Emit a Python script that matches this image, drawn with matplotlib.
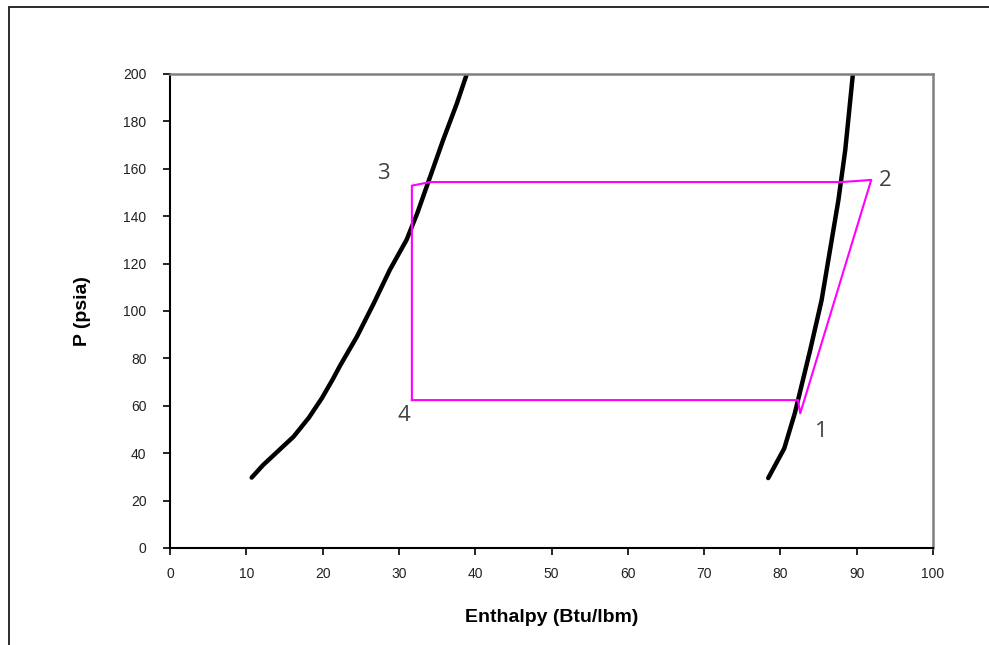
import matplotlib
matplotlib.use('Agg')
import matplotlib.pyplot as plt
from matplotlib.patches import Rectangle

# saturated liquid line (h in Btu/lbm, P in psia)
liq_h = [10.7, 12.2, 14.2, 16.2, 18.2, 19.9, 21.3, 22.3, 24.5, 26.7, 28.8, 31.0, 32.4, 34.1, 35.8, 37.6, 38.9]
liq_p = [29.7, 35.0, 41.0, 47.0, 55.0, 63.2, 71.0, 77.0, 89.2, 103.2, 117.3, 130.0, 141.2, 156.7, 172.2, 187.6, 200.0]

# saturated vapor line
vap_h = [78.4, 80.5, 81.9, 83.9, 85.4, 86.5, 87.6, 88.2, 88.5, 89.0, 89.5]
vap_p = [29.5, 42.0, 57.0, 83.5, 104.6, 125.7, 146.8, 160.9, 168.0, 184.0, 200.0]

# refrigeration cycle 4 -> 1 -> 2 -> 3 -> 4
cyc_h = [31.7, 82.3, 82.6, 91.9, 88.0, 34.1, 31.7, 31.7]
cyc_p = [62.4, 62.4, 56.8, 155.3, 154.4, 154.4, 152.9, 62.4]

state_labels = ['1', '2', '3', '4']
state_h = [85.3, 93.8, 27.9, 30.6]
state_p = [49.0, 155.0, 158.0, 56.0]

fig = plt.figure(figsize=(9.89, 6.45), dpi=100)
fig.patches.append(Rectangle((0.0086, -0.1), 1.2, 1.0884, transform=fig.transFigure,
                             fill=False, edgecolor='#1a1a1a', linewidth=1.3))

ax = fig.add_axes([0.1719, 0.1504, 0.7715, 0.7349])
ax.plot(liq_h, liq_p, color='black', linewidth=3.2,
        solid_capstyle='round', solid_joinstyle='round')
ax.plot(vap_h, vap_p, color='black', linewidth=3.2,
        solid_capstyle='round', solid_joinstyle='round')
ax.plot(cyc_h, cyc_p, color='#ff00ff', linewidth=1.5)

for lab, h, p in zip(state_labels, state_h, state_p):
    ax.text(h, p, lab, fontsize=16, color='#404040', family='Open Sans',
            ha='center', va='center')

ax.set_xlim(0, 100)
ax.set_ylim(0, 200)
ax.set_xticks(range(0, 101, 10))
ax.set_yticks(range(0, 201, 20))
for side in ['top', 'right']:
    ax.spines[side].set_color('#808080')
    ax.spines[side].set_linewidth(1.8)
for side in ['left', 'bottom']:
    ax.spines[side].set_color('black')
    ax.spines[side].set_linewidth(1.5)
ax.tick_params(direction='out', length=5, width=1.2, labelsize=10,
               labelfontfamily='Liberation Sans', labelcolor='#222222')
ax.tick_params(axis='y', pad=12)
ax.tick_params(axis='x', pad=9)

ax.set_xlabel('Enthalpy (Btu/lbm)', fontsize=14, fontweight='bold',
              family='Liberation Sans', labelpad=20)
ax.set_ylabel('P (psia)', fontsize=14, fontweight='bold',
              family='Liberation Sans', labelpad=23)

fig.savefig('out.png', dpi=100)
